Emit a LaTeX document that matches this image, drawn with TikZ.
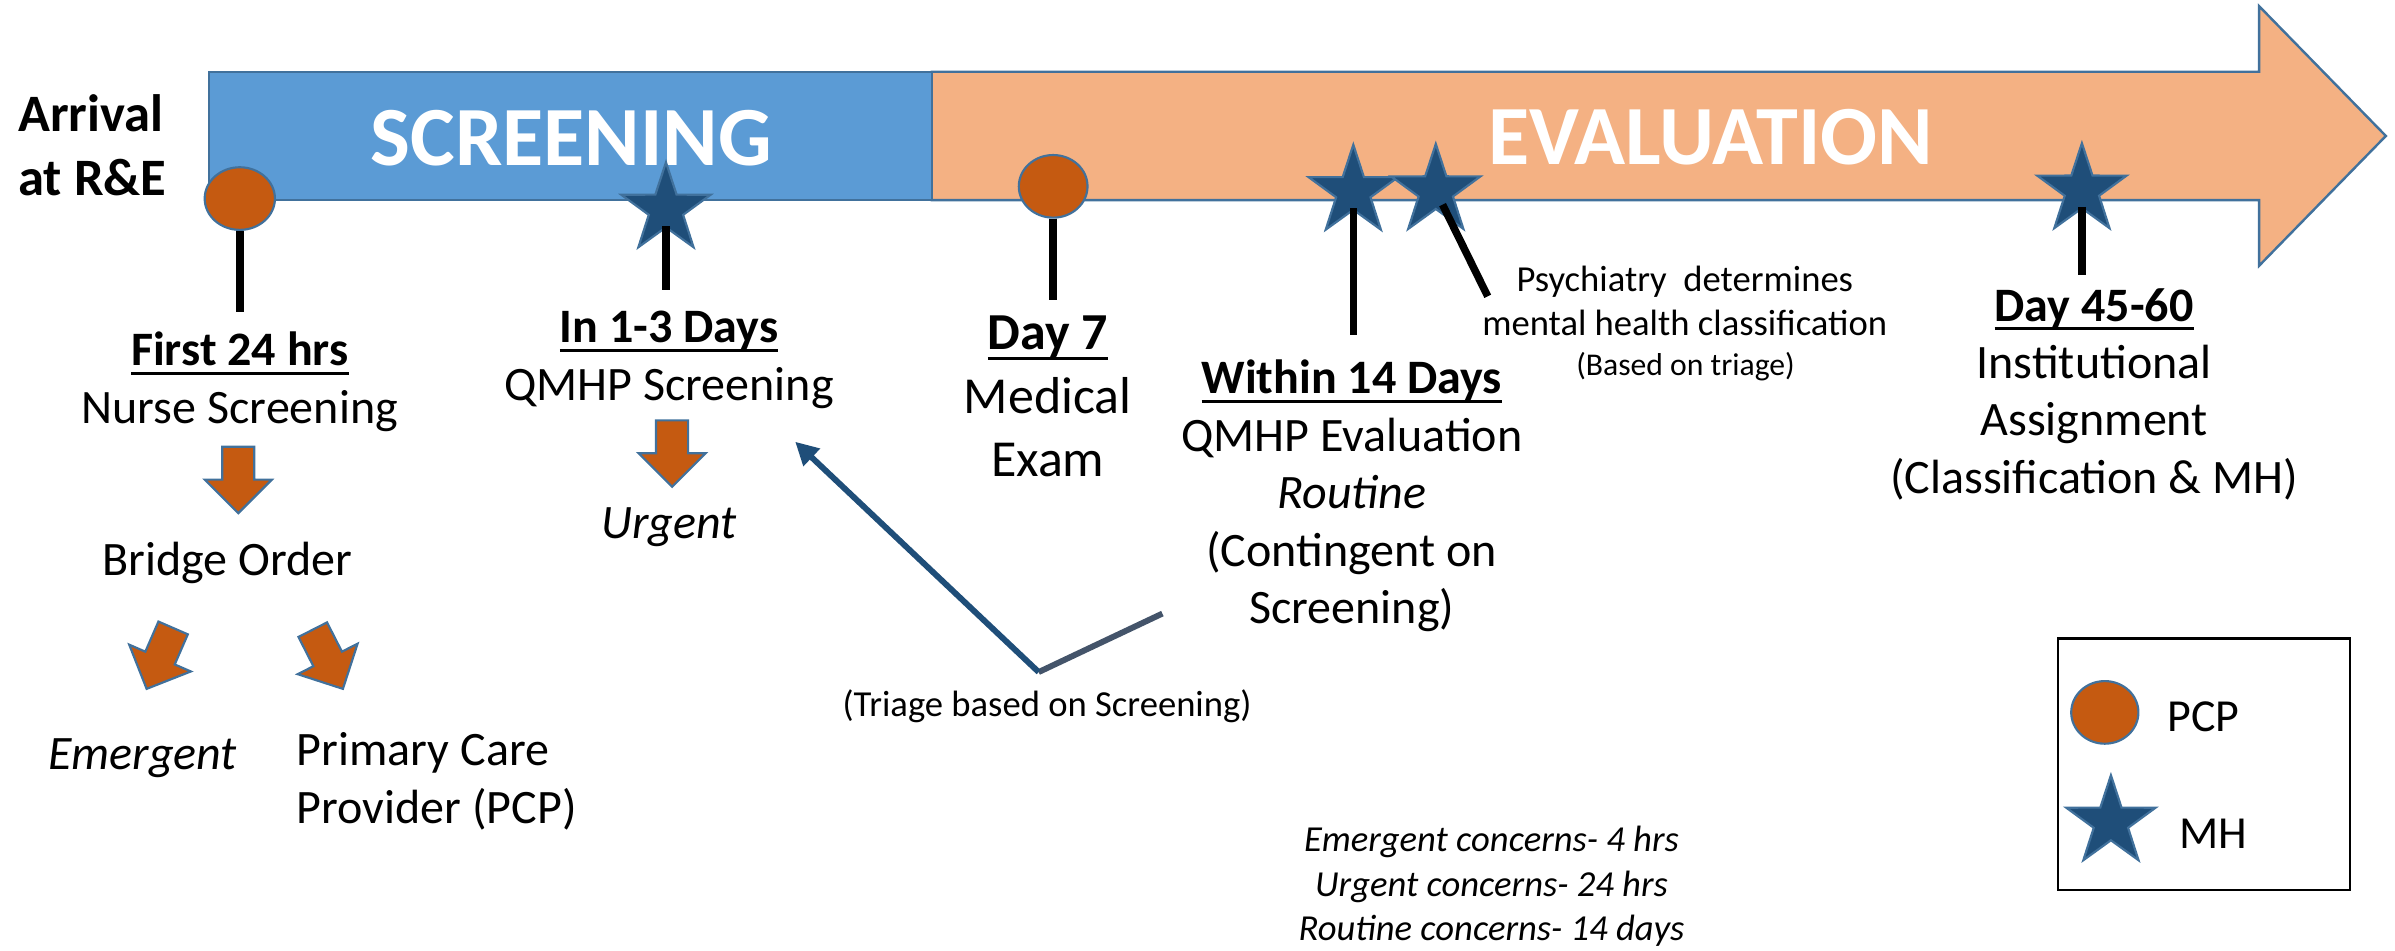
\documentclass[tikz,border=0pt]{standalone}
\usepackage{fontspec}
\setmainfont{Carlito}
\usetikzlibrary{positioning,shapes.geometric,arrows.meta}
\definecolor{scrblue}{HTML}{5B9BD5}
\definecolor{evalorange}{HTML}{F4B183}
\definecolor{edgeblue}{HTML}{41719C}
\definecolor{pcporange}{HTML}{C55A11}
\definecolor{mhblue}{HTML}{1F4E79}
\definecolor{slategray}{HTML}{44546A}
\newcommand{\udl}[1]{\setbox0\hbox{#1}\rlap{\rule[-0.19em]{\wd0}{0.06em}}\box0}
\tikzset{pcp/.style={ellipse,draw=edgeblue,line width=0.8pt,fill=pcporange,minimum width=0.92cm,minimum height=0.82cm,inner sep=0},
         mh/.style={star,star points=5,star point ratio=2.6,draw=edgeblue,line width=0.8pt,fill=mhblue,minimum size=1.23cm,inner sep=0},
         stem/.style={line width=2.8pt},
         txt/.style={font=\fontsize{17.9}{21.4}\selectfont,align=center,inner sep=0,anchor=base},
         txtbig/.style={txt,font=\fontsize{19.35}{23.6}\selectfont},
         small/.style={txt,font=\fontsize{13.65}{16.2}\selectfont},
         note/.style={txt,font=\fontsize{13.65}{16.5}\selectfont\itshape},
         tiny/.style={txt,font=\fontsize{11.8}{14}\selectfont},
         banner/.style={inner sep=0,anchor=base,text=white,font=\fontsize{31.4}{36}\selectfont\bfseries},
         blockarrow/.pic={\draw[edgeblue,line width=0.8pt,fill=pcporange] (0,0) -- (-22,-22) -- (-10.5,-22) -- (-10.5,-43.5) -- (10.5,-43.5) -- (10.5,-22) -- (22,-22) -- cycle;}
}
\begin{document}
\begin{tikzpicture}[x=0.02cm,y=-0.02cm]
\useasboundingbox (0,0) rectangle (1568,622);

\filldraw[fill=evalorange,draw=edgeblue,line width=0.9pt] (610,47) -- (1479,47) -- (1479,4) -- (1562,89) -- (1479,174) -- (1479,131) -- (610,131) -- cycle;
\filldraw[fill=scrblue,draw=edgeblue,line width=0.9pt] (137,47) rectangle (610,131);
\node[banner] (scr) at (374,108.5) {SCREENING};
\node[banner] (eval) at (1120,108) {EVALUATION};
\node[txt,align=left,anchor=base west,font=\fontsize{19.6}{23.9}\selectfont\bfseries] (arrival) at (11.7,128) {Arrival\\at R\&E};

\node[pcp] (c1) at (157,130) {};
\node[mh] (s1) at (436,137) {};
\node[pcp,minimum width=0.9cm] (c2) at (689.5,122) {};
\node[mh] (s2) at (886,125.5) {};
\node[mh] (s3) at (940,125) {};
\node[mh] (s4) at (1363,124.5) {};

\coordinate (c1end) at (157,204);
\coordinate (s1end) at (436,190);
\coordinate (c2end) at (689.5,196.5);
\coordinate (s2end) at (886,219);
\coordinate (s3end) at (974,194);
\coordinate (s4end) at (1363,180);
\draw[stem] (c1.south) -- (c1end);
\draw[stem,shorten <=0.22cm] (s1.center) -- (s1end);
\draw[stem] (c2.south) -- (c2end);
\draw[stem,shorten <=0.22cm] (s2.center) -- (s2end);
\draw[stem,shorten <=0.2cm] (s3.center) -- (s3end);
\draw[stem,shorten <=0.22cm] (s4.center) -- (s4end);

\node[txt] (first) at (157,277) {\udl{\textbf{First 24 hrs}}\\Nurse Screening};
\path (156,336) pic {blockarrow};
\node[txt] (bridge) at (149,376.6) {Bridge Order};
\path (96,451) pic[rotate=-23.5] {blockarrow};
\path (224.5,451) pic[rotate=27] {blockarrow};
\node[txt] (emergent) at (93.5,504) {\textit{Emergent}};
\node[txt,align=left,anchor=base west] (provider) at (194,539) {Primary Care\\Provider (PCP)};

\node[txt] (inday) at (438,262) {\udl{\textbf{In 1-3 Days}}\\QMHP Screening};
\path (440,318.7) pic {blockarrow};
\node[txt] (urgent) at (438,352.5) {\textit{Urgent}};

\node[txtbig] (day7) at (686,312) {\udl{\textbf{Day 7}}\\Medical\\Exam};
\node[txt] (within) at (885,408.2) {\udl{\textbf{Within 14 Days}}\\QMHP Evaluation\\\textit{Routine}\\(Contingent on\\Screening)};
\node[small] (psych) at (1103,219.4) {Psychiatry\ \ determines\\mental health classification};
\node[tiny] (based) at (1103.5,245.6) {(Based on triage)};
\node[txt] (day45) at (1371,323) {\udl{\textbf{Day 45-60}}\\Institutional\\Assignment\\(Classification \& MH)};

\coordinate (tritip) at (520.6,289.2);
\coordinate (trivertex) at (680,440);
\coordinate (triend) at (761,401.7);
\draw[line width=2.2pt,slategray] (trivertex) -- (triend);
\draw[line width=2.2pt,mhblue,-{Triangle[length=0.3cm,width=0.3cm]}] (trivertex) -- (tritip);
\node[small] (triage) at (685.5,469.3) {(Triage based on Screening)};

\node[note] (concerns) at (976.5,615.6) {Emergent concerns- 4 hrs\\Urgent concerns- 24 hrs\\Routine concerns- 14 days};

\node[draw,line width=0.9pt,minimum width=3.824cm,minimum height=3.296cm,inner sep=0] (legend) at (1443,500.4) {};
\node[pcp,minimum width=0.88cm] (lgpcp) at (1378,466.4) {};
\node[mh] (lgmh) at (1382,538.3) {};
\node[txt,anchor=base west,font=\fontsize{17.1}{20}\selectfont] (lgpcptxt) at (1418.8,479) {PCP};
\node[txt,anchor=base west,font=\fontsize{17.1}{20}\selectfont] (lgmhtxt) at (1426.4,555.6) {MH};

\end{tikzpicture}
\end{document}
